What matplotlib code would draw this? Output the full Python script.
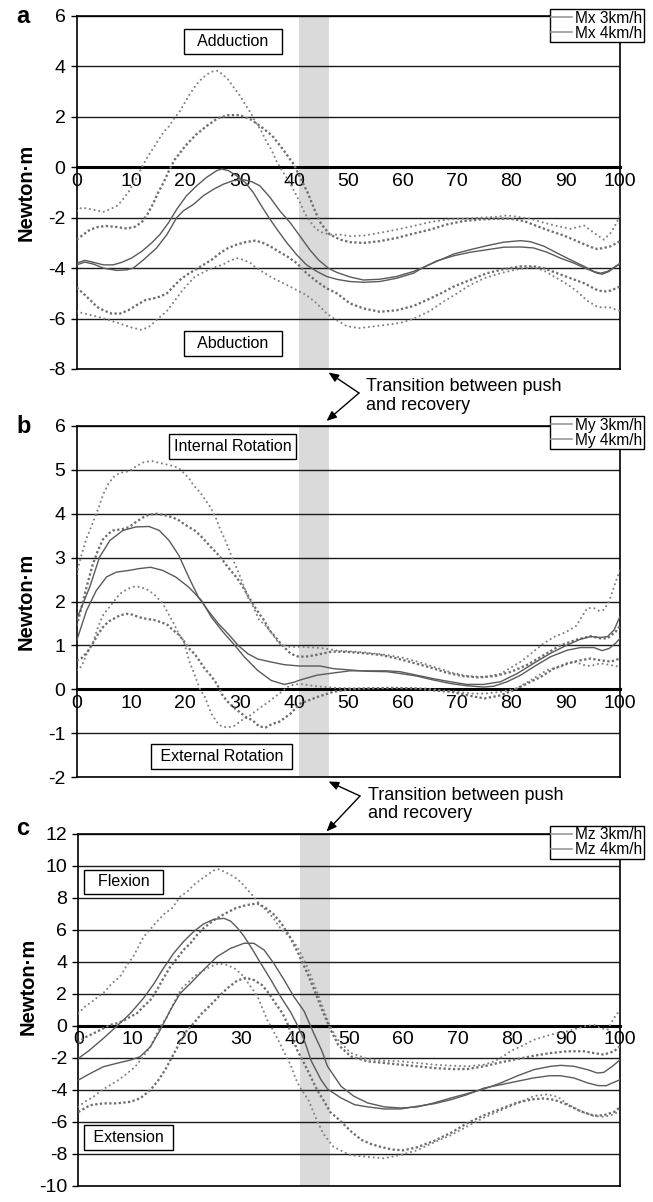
import matplotlib.pyplot as plt
import numpy as np
from matplotlib.lines import Line2D

plt.rcParams['font.family'] = ['Liberation Sans', 'DejaVu Sans']
plt.rcParams['axes.unicode_minus'] = False

# ---- panel a: Mx ((% cycle, N·m)) ----
mx3 = [(0, -3.8), (1.5, -3.69), (3.1, -3.77), (4.9, -3.87), (6.7, -3.87), (8.3, -3.77), (10.1, -3.6),
       (12, -3.33), (13.8, -3.0), (15.3, -2.67), (16.9, -2.2), (18.4, -1.67), (20.2, -1.13), (22.1, -0.73),
       (23.9, -0.4), (25.8, -0.13), (26.7, -0.07), (27.9, -0.13), (29.4, -0.33), (31, -0.6), (32.5, -1.0),
       (34, -1.53), (35.6, -2.07), (37.1, -2.53), (38.7, -3.0), (40.5, -3.47), (42.3, -3.87), (44.2, -4.13),
       (46, -4.33), (48, -4.45), (50.3, -4.53), (52.8, -4.56), (55.8, -4.53), (58.9, -4.4), (62, -4.2),
       (63.8, -3.97), (66.3, -3.71), (69.4, -3.51), (72.4, -3.37), (75.5, -3.27), (78.6, -3.17), (81.7, -3.16),
       (84.1, -3.2), (86.6, -3.37), (89, -3.6), (91.5, -3.8), (94, -4.04), (95.8, -4.2), (96.7, -4.24),
       (98, -4.13), (100, -3.8)]
mx4 = [(0, -3.87), (1.5, -3.76), (3.1, -3.84), (4.9, -4.0), (7.4, -4.09), (9.2, -4.07), (10.4, -4.0),
       (12.3, -3.67), (14.7, -3.2), (16.6, -2.67), (18.4, -2.0), (19.6, -1.73), (21.5, -1.47), (23.3, -1.13),
       (25.2, -0.87), (27, -0.67), (28.8, -0.53), (30.7, -0.49), (32.2, -0.57), (33.7, -0.73), (35.6, -1.2),
       (37.4, -1.73), (39.3, -2.2), (41.1, -2.73), (42.9, -3.27), (44.5, -3.67), (46.3, -4.0), (47.9, -4.17),
       (50.3, -4.35), (52.8, -4.47), (55.8, -4.44), (58.9, -4.33), (62, -4.13), (63.8, -3.97), (66.3, -3.73),
       (69.4, -3.44), (72.4, -3.27), (75.5, -3.11), (78.6, -2.97), (81.7, -2.91), (83.5, -2.95), (86, -3.13),
       (88.4, -3.4), (90.9, -3.67), (93.4, -3.93), (95.2, -4.13), (96.4, -4.2), (97.7, -4.13), (98.9, -3.97),
       (100, -3.84)]
mx3_hi = [(0, -1.73), (0.9, -1.6), (2.1, -1.64), (3.7, -1.71), (4.9, -1.77), (6.1, -1.67), (7.4, -1.53),
          (8.3, -1.33), (9.5, -1.0), (10.8, -0.5), (12, 0.0), (13, 0.4), (14, 0.73), (15, 1.07), (16, 1.4),
          (17, 1.63), (17.9, 1.93), (19, 2.23), (20, 2.6), (20.9, 2.93), (22, 3.27), (23, 3.51), (24, 3.69),
          (25, 3.8), (26, 3.83), (26.9, 3.67), (27.9, 3.47), (28.8, 3.2), (29.9, 2.89), (30.9, 2.53),
          (31.9, 2.2), (32.8, 1.84), (33.9, 1.47), (34.8, 1.07), (35.9, 0.67), (36.8, 0.23), (37.9, -0.17),
          (39, -0.53), (40, -0.93), (41.1, -1.4), (42, -1.83), (42.9, -2.13), (44, -2.44), (45.3, -2.6),
          (46.6, -2.67), (48.5, -2.67), (50.3, -2.73), (52.8, -2.71), (55.8, -2.6), (58.9, -2.47), (62, -2.33),
          (65.1, -2.17), (68.1, -2.07), (71.2, -2.04), (74.3, -2.0), (77.4, -1.96), (79.2, -1.91), (81.1, -1.96),
          (83.5, -2.04), (86, -2.2), (88.4, -2.33), (90.9, -2.44), (93.4, -2.31), (95.2, -2.6), (97, -2.87),
          (98.3, -2.6), (99.2, -2.27), (100, -1.91)]
mx3_lo = [(0, -5.73), (1.5, -5.8), (3.1, -5.89), (4.6, -5.97), (6.1, -6.07), (8, -6.2), (10, -6.35),
          (12, -6.45), (13.5, -6.3), (15, -6.0), (16.6, -5.7), (17.9, -5.33), (19.5, -4.87), (20.6, -4.6),
          (21.8, -4.33), (23, -4.2), (24.2, -4.07), (25.5, -3.96), (26.8, -3.87), (28, -3.73), (29.4, -3.6),
          (30.7, -3.67), (32, -3.8), (33.1, -4.0), (34.4, -4.17), (35.6, -4.33), (36.8, -4.47), (38.7, -4.67),
          (40.5, -4.87), (42.3, -5.07), (44.2, -5.4), (46, -5.8), (47.9, -6.07), (49.7, -6.3), (52, -6.38),
          (55, -6.3), (58, -6.22), (60, -6.15), (62, -6.0), (65, -5.7), (67, -5.4), (70, -5.0), (72.4, -4.67),
          (75, -4.4), (78, -4.2), (81, -4.05), (84, -3.96), (86, -4.1), (88, -4.35), (90, -4.6), (92, -4.9),
          (94, -5.3), (96, -5.55), (98, -5.55), (100, -5.7)]
mx4_hi = [(0, -2.87), (1.2, -2.67), (2.5, -2.47), (4, -2.36), (5.5, -2.33), (7.4, -2.37), (9.2, -2.43),
          (10.7, -2.36), (12, -2.17), (13, -1.87), (14, -1.47), (15, -1.0), (16, -0.6), (17, -0.13), (18, 0.29),
          (20, 0.85), (22, 1.3), (24, 1.65), (26, 1.95), (28, 2.07), (30, 2.07), (32, 1.9), (34, 1.6),
          (36, 1.25), (38, 0.7), (40, 0.1), (41, -0.35), (42.5, -1.0), (44, -1.8), (45, -2.25), (46.6, -2.67),
          (48.5, -2.87), (50.3, -2.97), (52.8, -3.0), (55.8, -2.93), (58.9, -2.8), (62, -2.63), (65.1, -2.47),
          (68.1, -2.27), (71.2, -2.13), (74.3, -2.07), (77.4, -2.04), (79.8, -2.04), (82.3, -2.13),
          (84.7, -2.33), (87.2, -2.53), (89.7, -2.71), (92.1, -2.93), (94.6, -3.16), (95.8, -3.24), (97, -3.2),
          (98.3, -3.13), (100, -2.93)]
mx4_lo = [(0, -4.77), (1.2, -5.0), (2.5, -5.27), (3.7, -5.53), (4.9, -5.67), (6.4, -5.8), (8, -5.8),
          (9.5, -5.67), (11, -5.47), (12.6, -5.27), (14.1, -5.2), (15.3, -5.13), (16.6, -5.0), (17.8, -4.73),
          (19, -4.47), (20.2, -4.27), (21.8, -4.07), (23.3, -3.87), (24.8, -3.67), (26.4, -3.4), (27.9, -3.2),
          (29.4, -3.07), (31, -2.97), (32.8, -2.91), (34, -2.97), (35.6, -3.13), (37.1, -3.33), (38.7, -3.53),
          (40.5, -3.8), (42.3, -4.2), (44.2, -4.53), (46, -4.8), (47.9, -5.0), (50.3, -5.4), (52.8, -5.6),
          (55.8, -5.73), (58.9, -5.67), (62, -5.5), (65.1, -5.2), (67.5, -4.95), (69.4, -4.73), (72.4, -4.47),
          (75.5, -4.2), (78.6, -4.04), (81.7, -3.93), (84.1, -3.93), (86, -4.0), (88.4, -4.2), (90.9, -4.4),
          (93.4, -4.6), (95.8, -4.87), (97, -4.93), (98.3, -4.89), (100, -4.73)]

# ---- panel b: My ----
my3 = [(0, 1.6), (2.4, 2.33), (4.2, 3.01), (6.1, 3.39), (8.5, 3.62), (10.9, 3.7), (13.3, 3.71), (15.2, 3.62),
       (17, 3.39), (18.8, 3.05), (20.6, 2.56), (22.4, 2.1), (24.2, 1.79), (26.1, 1.49), (27.9, 1.26),
       (29.7, 1.0), (31.5, 0.81), (33.3, 0.69), (35.8, 0.62), (38.2, 0.56), (41, 0.53), (44.8, 0.53),
       (47.2, 0.47), (50.3, 0.44), (53.4, 0.41), (57.1, 0.4), (59.5, 0.36), (62.6, 0.3), (65.7, 0.21),
       (68.8, 0.13), (71.8, 0.08), (74.9, 0.05), (76.8, 0.07), (79.2, 0.17), (81.7, 0.32), (84.1, 0.51),
       (87.2, 0.74), (90.3, 0.89), (92.7, 0.95), (95.2, 0.95), (96.7, 0.88), (98, 0.93), (99.2, 1.05),
       (100, 1.16)]
my4 = [(0, 1.11), (1.8, 1.79), (3.6, 2.25), (5.5, 2.56), (7.3, 2.67), (9.7, 2.71), (11.5, 2.75), (13.6, 2.78),
       (15.8, 2.71), (18.2, 2.56), (20.6, 2.33), (23, 2.02), (24.8, 1.64), (26.7, 1.34), (29.1, 1.0),
       (30.9, 0.73), (33.3, 0.43), (35.8, 0.2), (38.2, 0.11), (40, 0.16), (41.1, 0.21), (44.2, 0.32),
       (47.2, 0.37), (50.3, 0.42), (53.4, 0.42), (57.1, 0.42), (59.5, 0.4), (62.6, 0.32), (65.7, 0.24),
       (68.8, 0.17), (71.8, 0.11), (74.9, 0.11), (78, 0.17), (81.1, 0.36), (84.1, 0.59), (87.2, 0.82),
       (90.3, 1.01), (92.7, 1.14), (94.6, 1.2), (96.4, 1.18), (97.7, 1.2), (98.9, 1.35), (100, 1.66)]
my3_hi = [(0, 2.63), (0.9, 3.07), (1.8, 3.44), (2.9, 3.77), (3.9, 4.09), (4.8, 4.42), (5.8, 4.68), (6.8, 4.84),
          (7.9, 4.93), (9.7, 4.97), (10.9, 5.08), (12.4, 5.18), (13.9, 5.2), (15.2, 5.16), (16.7, 5.12),
          (17.9, 5.08), (18.8, 5.04), (19.7, 4.93), (20.6, 4.82), (21.5, 4.65), (22.7, 4.49), (23.6, 4.33),
          (24.7, 4.13), (25.6, 3.91), (26.5, 3.62), (27.6, 3.33), (28.5, 3.03), (29.6, 2.72), (30.6, 2.4),
          (31.5, 2.1), (32.4, 1.91), (33.6, 1.57), (34.5, 1.49), (35.5, 1.34), (36.4, 1.19), (37.3, 1.03),
          (38.2, 1.0), (39.4, 0.96), (41, 0.97), (45, 0.94), (48, 0.88), (52, 0.85), (56, 0.8), (60, 0.72),
          (63, 0.62), (66, 0.5), (69, 0.38), (72, 0.3), (75, 0.28), (78, 0.35), (80, 0.5), (82, 0.65),
          (84, 0.85), (86, 1.05), (88, 1.2), (90, 1.3), (92, 1.45), (93, 1.66), (94, 1.85), (95.2, 1.85),
          (96.1, 1.79), (97, 1.81), (98, 2.0), (98.9, 2.34), (100, 2.72)]
my3_lo = [(0, 0.44), (0.9, 0.52), (1.9, 0.82), (2.9, 1.03), (3.9, 1.41), (4.8, 1.68), (6.7, 1.98), (7.9, 2.17),
          (9.4, 2.29), (10.6, 2.34), (11.8, 2.33), (13, 2.27), (14.2, 2.17), (15.8, 1.96), (16.7, 1.76),
          (17.9, 1.49), (18.8, 1.26), (19.7, 1.1), (20.7, 0.65), (21.7, 0.33), (22.7, 0.0), (23.6, -0.18),
          (24.8, -0.56), (25.8, -0.75), (26.7, -0.85), (27.9, -0.87), (29.1, -0.83), (30.3, -0.71),
          (31.5, -0.64), (32.7, -0.52), (33.9, -0.41), (35.2, -0.3), (36.4, -0.18), (37.6, -0.07), (38.8, 0.05),
          (40, 0.11), (41.2, 0.12), (44, 0.07), (48, 0.03), (52, 0.02), (56, 0.03), (60, 0.03), (64, 0.02),
          (67, -0.02), (70, -0.06), (73, -0.1), (75, -0.1), (78, -0.06), (81, 0.02), (84, 0.24), (86.6, 0.44),
          (89, 0.51), (91.5, 0.63), (93.4, 0.55), (94.6, 0.53), (96.4, 0.59), (98.3, 0.55), (100, 0.51)]
my4_hi = [(0, 1.45), (0.9, 1.87), (1.9, 2.37), (2.9, 2.82), (3.9, 3.16), (4.8, 3.41), (5.8, 3.54), (6.7, 3.62),
          (7.9, 3.64), (8.8, 3.66), (9.7, 3.7), (10.9, 3.81), (12.1, 3.91), (13.3, 3.98), (14.8, 4.0),
          (16.4, 3.96), (17.6, 3.92), (18.8, 3.85), (19.7, 3.77), (20.6, 3.7), (21.7, 3.62), (22.7, 3.51),
          (23.6, 3.39), (24.7, 3.24), (25.8, 3.1), (26.7, 2.97), (27.6, 2.82), (28.6, 2.67), (29.6, 2.52),
          (30.6, 2.33), (31.5, 2.14), (32.6, 1.91), (33.6, 1.72), (34.5, 1.57), (35.5, 1.34), (36.4, 1.22),
          (37.6, 1.03), (38.5, 0.92), (39.4, 0.81), (40.6, 0.75), (42, 0.74), (44, 0.78), (47, 0.86), (50, 0.85),
          (53, 0.82), (56, 0.78), (59, 0.7), (62, 0.6), (65, 0.5), (68, 0.38), (71, 0.3), (74, 0.27), (77, 0.3),
          (80, 0.4), (83, 0.56), (86, 0.78), (89, 1.0), (92, 1.13), (94.6, 1.21), (96.4, 1.16), (97.7, 1.16),
          (99.2, 1.31), (100, 1.45)]
my4_lo = [(0, 0.65), (0.9, 0.71), (1.9, 0.84), (2.9, 1.03), (3.9, 1.25), (4.8, 1.41), (5.8, 1.54), (6.7, 1.6),
          (7.9, 1.68), (9.1, 1.72), (10.3, 1.7), (11.5, 1.64), (13, 1.6), (14.2, 1.58), (15.5, 1.53),
          (16.7, 1.47), (17.7, 1.35), (18.8, 1.24), (19.7, 1.1), (20.6, 0.94), (21.8, 0.79), (22.7, 0.63),
          (23.6, 0.46), (24.7, 0.31), (25.8, 0.12), (26.7, -0.11), (27.6, -0.26), (28.8, -0.41), (30, -0.52),
          (31.2, -0.64), (32.4, -0.71), (33.6, -0.85), (34.8, -0.87), (36, -0.79), (37.3, -0.74), (38.2, -0.66),
          (39.4, -0.55), (41.1, -0.33), (44.2, -0.18), (47.2, -0.06), (50.3, 0.0), (54, 0.02), (58, 0.03),
          (62, 0.02), (66, -0.03), (69, -0.06), (72, -0.14), (75, -0.21), (78, -0.14), (80.4, -0.02),
          (82.9, 0.13), (85.4, 0.28), (87.8, 0.47), (90.3, 0.59), (92.7, 0.66), (94.6, 0.7), (96.4, 0.66),
          (98.3, 0.63), (100, 0.7)]

# ---- panel c: Mz ----
mz3 = [(0, -2.05), (2, -1.55), (4.6, -0.8), (7, -0.06), (9.6, 0.77), (12, 1.71), (14, 2.65), (15.7, 3.59),
       (17.6, 4.53), (19.4, 5.26), (21.3, 5.89), (23.1, 6.37), (25, 6.66), (26.9, 6.72), (28.1, 6.55),
       (29.3, 6.15), (30.6, 5.6), (32.1, 4.8), (33.6, 3.95), (35.5, 2.9), (37.3, 1.85), (39.2, 0.85),
       (40.5, 0.0), (41.7, -0.9), (43, -2.2), (44.8, -3.38), (46, -3.96), (48.5, -4.52), (51, -4.94),
       (53.4, -5.08), (56.5, -5.21), (59.5, -5.21), (62.6, -5.04), (65.7, -4.88), (68.8, -4.63), (71.8, -4.31),
       (74.9, -3.9), (78, -3.69), (81, -3.48), (84, -3.27), (87, -3.13), (89, -3.13), (91.5, -3.27),
       (94, -3.58), (96, -3.75), (97.5, -3.75), (98.6, -3.58), (100, -3.38)]
mz4 = [(0, -3.4), (2.2, -2.99), (4.6, -2.57), (7, -2.36), (9.6, -2.15), (11.4, -1.94), (13.3, -1.32),
       (15.1, -0.27), (17, 0.98), (18.8, 2.02), (20.7, 2.65), (23.1, 3.49), (25.6, 4.32), (28.1, 4.84),
       (30.6, 5.16), (32.4, 5.16), (34.3, 4.74), (36.1, 3.9), (38, 2.86), (39.8, 1.82), (41.7, 0.9),
       (43.5, -0.5), (45, -1.6), (46, -2.54), (48.5, -3.79), (50.9, -4.42), (53.4, -4.83), (56.5, -5.08),
       (59.5, -5.15), (62.6, -5.08), (65.7, -4.83), (68.8, -4.52), (71.8, -4.25), (74.9, -3.96), (78, -3.58),
       (81.1, -3.13), (84.1, -2.75), (87.2, -2.54), (89.1, -2.48), (91.5, -2.54), (94, -2.75), (95.8, -2.96),
       (97, -2.92), (98.6, -2.54), (100, -2.13)]
mz3_hi = [(0, 0.77), (1.2, 1.19), (2.5, 1.5), (3.7, 1.82), (4.9, 2.13), (6.2, 2.65), (7.7, 3.07), (9, 3.8),
          (10.2, 4.36), (11.1, 4.95), (12, 5.53), (13.3, 6.05), (14.5, 6.51), (16, 7.04), (17.3, 7.35),
          (18.8, 8.08), (20.1, 8.39), (21.3, 8.81), (22.5, 9.12), (23.8, 9.44), (25, 9.72), (25.9, 9.79),
          (26.9, 9.65), (28.1, 9.44), (29.3, 9.2), (30.2, 8.91), (32.1, 8.18), (33.6, 7.56), (34.9, 7.14),
          (36.1, 6.7), (37.3, 6.1), (39.2, 5.5), (40.5, 4.9), (42, 3.9), (43.2, 2.9), (44.2, 2.0), (45.3, 1.0),
          (46.2, 0.2), (47.2, -0.5), (48.2, -1.0), (50.3, -1.7), (53.4, -2.08), (56.5, -2.19), (59.5, -2.23),
          (62.6, -2.33), (65.7, -2.44), (68.8, -2.5), (71.8, -2.54), (74.9, -2.44), (76.8, -2.23), (78.5, -1.9),
          (80, -1.55), (81.7, -1.3), (84.1, -0.88), (87.2, -0.56), (90.3, -0.35), (93.4, -0.04), (95.2, 0.06),
          (96.4, -0.15), (97.7, -0.25), (98.9, 0.48), (100, 1.0)]
mz3_lo = [(0, -5.07), (1.2, -4.76), (2.8, -4.45), (4.3, -4.03), (5.9, -3.72), (7.4, -3.4), (9, -2.99),
          (10.5, -2.57), (11.7, -2.05), (13.3, -1.32), (14.2, -0.69), (15.1, -0.06), (16.4, 0.56), (17.3, 1.19),
          (18.2, 1.82), (19.1, 2.34), (20.1, 2.65), (21.3, 3.07), (22.8, 3.38), (24.4, 3.7), (25.9, 3.9),
          (27.5, 3.8), (29, 3.55), (30.2, 3.2), (31.5, 2.6), (33, 1.9), (34.9, 0.35), (36.1, -0.38),
          (37.5, -1.3), (39.2, -2.46), (40.1, -3.3), (41, -3.9), (42.5, -4.66), (44, -5.9), (45.2, -6.74),
          (47.1, -7.58), (50.2, -8.1), (53.2, -8.2), (56.3, -8.3), (59.4, -8.1), (62.5, -7.8), (65.7, -7.3),
          (68.8, -6.85), (71.8, -6.3), (74.9, -5.75), (78, -5.3), (81.1, -4.85), (84.1, -4.4), (86.5, -4.3),
          (88.5, -4.45), (90.3, -4.9), (92.7, -5.35), (95.2, -5.65), (97, -5.7), (98.9, -5.55), (100, -5.3)]
mz4_hi = [(0, -1.1), (0.9, -0.79), (2.2, -0.58), (3.4, -0.38), (4.6, -0.17), (5.9, 0.05), (7.1, 0.15),
          (8.3, 0.31), (9.6, 0.56), (10.8, 0.77), (12, 1.19), (13.3, 1.61), (14.5, 2.23), (15.7, 2.96), (17, 3.7),
          (18.2, 4.2), (19.4, 4.74), (20.7, 5.16), (21.9, 5.68), (23.1, 6.1), (25, 6.6), (27, 7.0), (29, 7.35),
          (31, 7.55), (33, 7.65), (34.5, 7.4), (36, 7.0), (37.5, 6.4), (39, 5.6), (40.5, 4.6), (42, 3.5),
          (43.5, 2.3), (45, 1.0), (46.5, -0.2), (48, -1.2), (50.3, -1.92), (53.4, -2.23), (56.5, -2.33),
          (59.5, -2.44), (62.6, -2.54), (65.7, -2.65), (68.8, -2.71), (71.8, -2.71), (74.9, -2.54), (78, -2.29),
          (81.1, -2.08), (84.1, -1.88), (87.2, -1.71), (90.3, -1.6), (93.4, -1.6), (95.2, -1.71), (97, -1.81),
          (98.9, -1.6), (100, -1.29)]
mz4_lo = [(0, -5.4), (2.2, -4.97), (4.6, -4.86), (7.1, -4.86), (9.6, -4.76), (11.4, -4.55), (13.3, -4.03),
          (14.8, -3.4), (16.1, -2.73), (17, -2.15), (18.5, -1.2), (20.1, -0.27), (21.3, 0.15), (22.8, 0.77),
          (24.4, 1.29), (25.9, 1.82), (27.5, 2.34), (29.3, 2.82), (30.9, 3.0), (32.4, 2.86), (33.9, 2.55),
          (35.2, 2.02), (36.4, 1.4), (37.7, 0.77), (38.6, 0.15), (39.5, -0.69), (40.4, -1.52), (41.7, -2.36),
          (42.9, -3.19), (44.1, -4.03), (45.5, -4.8), (46.5, -5.4), (48.2, -5.9), (50.3, -6.6), (52.2, -7.13),
          (54, -7.4), (56, -7.6), (58, -7.75), (60, -7.8), (62.6, -7.6), (65.7, -7.2), (68.8, -6.7), (71.8, -6.1),
          (74.9, -5.6), (78, -5.2), (81.1, -4.8), (84, -4.6), (86, -4.55), (88, -4.65), (90.3, -4.95),
          (92.7, -5.35), (95.2, -5.63), (97, -5.6), (98.9, -5.4), (100, -5.1)]

transition = (41, 46.5)   # % of cycle, push -> recovery
x_ticks = list(range(0, 101, 10))

W, H = 653, 1202
fig = plt.figure(figsize=(W / 100, H / 100), dpi=100)

SOLID = dict(color='#5a5a5a', lw=1.0, zorder=4)
SPARSE = dict(color='#828282', lw=1.55, linestyle=(0, (0.01, 2.2)), dash_capstyle='round', zorder=3)
DENSE = dict(color='#6e6e6e', lw=1.65, linestyle=(0, (1, 1.05)), dash_capstyle='butt', zorder=3)


def px_rect(left, top, right, bottom):
    return [left / W, 1 - bottom / H, (right - left) / W, (bottom - top) / H]


def xy(pts):
    a = np.array(pts)
    return a[:, 0], a[:, 1]


def draw_panel(rect, m3, m4, hi3, lo3, hi4, lo4, ylo, yhi, ystep, names, boxes, letter, letter_y,
               legend_top, label_y=0.5):
    ax = fig.add_axes(rect)
    ax.set_xlim(0, 100)
    ax.set_ylim(ylo, yhi)
    ax.axvspan(*transition, color='#dadada', lw=0, zorder=0.2)

    for pts in (hi3, lo3):
        ax.plot(*xy(pts), **SPARSE)
    for pts in (hi4, lo4):
        ax.plot(*xy(pts), **DENSE)
    ax.plot(*xy(m3), **SOLID)
    ax.plot(*xy(m4), **SOLID)

    yt = np.arange(ylo, yhi + ystep / 2, ystep)
    ax.set_yticks(yt)
    ax.set_yticklabels([f'{v:g}' for v in yt])
    ax.set_xticks(x_ticks)
    ax.grid(axis='y', color='#1a1a1a', lw=1.0)
    ax.set_axisbelow(True)

    for s in ('top', 'left', 'right'):
        ax.spines[s].set_linewidth(1.2)
    ax.spines['bottom'].set_position(('data', 0))
    ax.spines['bottom'].set_linewidth(2.2)
    ax.axhline(ylo, color='k', lw=1.2, clip_on=False, zorder=5)

    ax.tick_params(axis='x', length=0, pad=4, labelsize=14)
    ax.tick_params(axis='y', direction='out', length=4, width=1, pad=4, labelsize=14)

    ax.set_ylabel('Newton·m', fontsize=14.5, fontweight='bold')
    ax.yaxis.set_label_coords(-0.075, label_y)

    for bx, by, txt in boxes:
        ax.text(bx, by, txt, ha='center', va='center', fontsize=11.5, zorder=6,
                bbox=dict(boxstyle='square,pad=0.3', fc='white', ec='k', lw=1.0))

    handles = [Line2D([], [], color='#9a9a9a', lw=1.2) for _ in names]
    leg = ax.legend(handles, names, loc='upper right', bbox_to_anchor=(643.5 / W, 1 - legend_top / H),
                    bbox_transform=fig.transFigure, fancybox=False, edgecolor='k', framealpha=1,
                    fontsize=11.2, handlelength=1.3, handletextpad=0.2, borderpad=0.1,
                    labelspacing=0.0, borderaxespad=0)
    leg.get_frame().set_linewidth(1.0)
    leg.set_zorder(10)

    fig.text(16.5 / W, 1 - letter_y / H, letter, fontsize=17, fontweight='bold', va='baseline')
    return ax


ax_a = draw_panel(px_rect(76.7, 16, 620, 369), mx3, mx4, mx3_hi, mx3_lo, mx4_hi, mx4_lo,
                  -8, 6, 2, ['Mx 3km/h', 'Mx 4km/h'],
                  [(28.7, 5.0, '  Adduction  '), (28.7, -7.0, '  Abduction  ')],
                  'a', 23, 9.3)
ax_b = draw_panel(px_rect(76.7, 426, 620, 777), my3, my4, my3_hi, my3_lo, my4_hi, my4_lo,
                  -2, 6, 1, ['My 3km/h', 'My 4km/h'],
                  [(28.65, 5.53, 'Internal Rotation'), (26.65, -1.53, ' External Rotation ')],
                  'b', 433, 416)
ax_c = draw_panel(px_rect(78.3, 834, 620, 1185.5), mz3, mz4, mz3_hi, mz3_lo, mz4_hi, mz4_lo,
                  -10, 12, 2, ['Mz 3km/h', 'Mz 4km/h'],
                  [(8.35, 9.0, '  Flexion  '), (9.3, -7.0, ' Extension ')],
                  'c', 835, 825.7, label_y=0.567)

# "Transition between push and recovery" callouts (image pixel positions)
callouts = [((366, 396), (359, 393), [(328.5, 372.5), (326.5, 421)]),
            ((368, 804.5), (360, 796), [(328.5, 781.5), (326.5, 831.5)])]
for (tx, ty), (vx, vy), tips in callouts:
    fig.text(tx / W, 1 - ty / H, 'Transition between push\nand recovery', fontsize=13,
             ha='left', va='center', linespacing=1.15)
    for px, py in tips:
        ax_a.annotate('', xy=(px, H - py), xytext=(vx, H - vy), xycoords='figure pixels',
                      textcoords='figure pixels', annotation_clip=False,
                      arrowprops=dict(arrowstyle='-|>,head_length=0.6,head_width=0.25', color='k',
                                      lw=1.0, shrinkA=0, shrinkB=0))

fig.savefig('out.png', dpi=100, facecolor='white')
